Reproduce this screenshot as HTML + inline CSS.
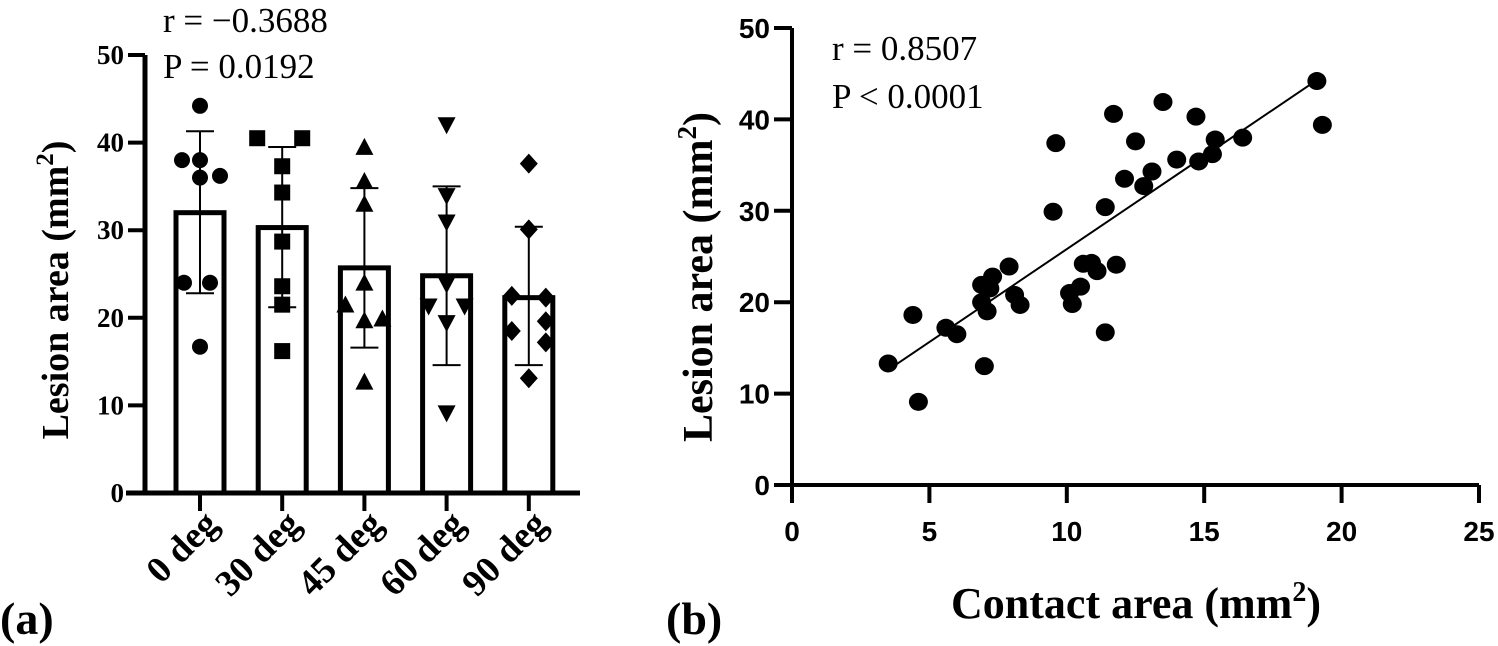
<!DOCTYPE html>
<html><head><meta charset="utf-8"><style>
html,body{margin:0;padding:0;background:#fff}
svg{display:block}
.serif{font-family:"Liberation Serif",serif}
.sans{font-family:"Liberation Sans",sans-serif}
</style></head><body>
<svg id="fig" width="1498" height="646" viewBox="0 0 1498 646" xmlns="http://www.w3.org/2000/svg">
<g id="chartA"></g>
<g id="chartB"></g>
<text x="0" y="634" class="serif" font-size="46" font-weight="bold">(a)</text>
<text x="666" y="634" class="serif" font-size="46" font-weight="bold">(b)</text>
<text x="163" y="32" class="serif" font-size="35">r = −0.3688</text>
<text x="163" y="78" class="serif" font-size="35">P = 0.0192</text>
<text x="832" y="60" class="serif" font-size="35">r = 0.8507</text>
<text x="832" y="108" class="serif" font-size="35">P &lt; 0.0001</text>
<text transform="translate(68,290) rotate(-90)" text-anchor="middle" class="serif" font-size="38" font-weight="bold">Lesion area (mm<tspan dy="-15" font-size="25">2</tspan><tspan dy="15">)</tspan></text>
<text transform="translate(712,277) rotate(-90)" text-anchor="middle" class="serif" font-size="42" font-weight="bold">Lesion area (mm<tspan dy="-16" font-size="27">2</tspan><tspan dy="16">)</tspan></text>
<text x="1136" y="618" text-anchor="middle" class="serif" font-size="44" font-weight="bold">Contact area (mm<tspan dy="-17" font-size="28">2</tspan><tspan dy="17">)</tspan></text>
</svg>
<script>
// ---- Chart A data ----
const categories = ["0 deg","30 deg","45 deg","60 deg","90 deg"];
const means = [32.0, 30.3, 25.7, 24.8, 22.3];
const sdUpper = [41.3, 39.5, 34.8, 35.0, 30.4];
const sdLower = [22.8, 21.2, 16.6, 14.6, 14.6];
const pts0 = [44.2, 38.0, 38.0, 36.0, 36.2, 24.0, 24.0, 16.7];
const pts30 = [40.5, 40.5, 37.3, 34.3, 28.7, 23.6, 21.5, 16.2];
const pts45 = [39.4, 35.5, 32.9, 23.9, 21.4, 19.6, 19.8, 12.6];
const pts60 = [42.1, 34.0, 31.0, 23.9, 21.4, 21.4, 19.5, 9.2];
const pts90 = [37.6, 30.1, 22.5, 22.3, 18.5, 19.6, 17.2, 13.1];
const jitter0 = [0,-18,0,0,20,-16,10,0];
const jitter30 = [-25,20,0,0,0,0,0,0];
const jitter45 = [0,0,0,0,-19,0,18,0];
const jitter60 = [0,0,0,0,-18,18,0,0];
const jitter90 = [0,0,-17,17,-17,17,17,0];
const yTicksA = [0,10,20,30,40,50];
// ---- Chart B data ----
const contactArea = [3.5,4.4,4.6,5.6,6.0,6.9,7.0,6.9,7.1,7.2,7.3,7.9,8.1,8.3,9.5,9.6,10.1,10.2,10.5,10.6,10.9,11.1,11.4,11.4,11.8,11.7,12.1,12.5,12.8,13.1,13.5,14.0,14.7,14.8,15.3,15.4,16.4,19.1,19.3];
const lesionArea = [13.3,18.6,9.1,17.2,16.5,21.9,13.0,20.0,19.0,21.5,22.8,23.9,20.8,19.7,29.9,37.4,21.0,19.8,21.7,24.2,24.3,23.4,30.4,16.7,24.1,40.6,33.5,37.6,32.7,34.3,41.9,35.6,40.3,35.4,36.2,37.8,38.0,44.2,39.4];
const fitX = [3.5, 19.1];
const fitY = [12.6, 44.3];
const xTicksB = [0,5,10,15,20,25];
const yTicksB = [0,10,20,30,40,50];

const NS="http://www.w3.org/2000/svg";
function mk(parent, tag, attrs){const e=document.createElementNS(NS,tag);for(const k in attrs)e.setAttribute(k,attrs[k]);parent.appendChild(e);return e;}

// Chart A
const gA=document.getElementById('chartA');
const yA=v=>493-v*(438/50);
const xA=i=>200+i*82.2;
const allPts=[pts0,pts30,pts45,pts60,pts90];
const allJit=[jitter0,jitter30,jitter45,jitter60,jitter90];
let e;
e=mk(gA,'line',{x1:145,y1:yA(0),x2:145,y2:yA(50),stroke:'#000','stroke-width':5});


e=mk(gA,'line',{x1:126,y1:yA(0),x2:580,y2:yA(0),stroke:'#000','stroke-width':5});


yTicksA.forEach(t=>{
  e=mk(gA,'line',{x1:128,y1:yA(t),x2:145,y2:yA(t),stroke:'#000','stroke-width':4});
  
  
  e=mk(gA,'text',{x:124,y:yA(t)+9,'text-anchor':'end','font-size':27,'font-weight':'bold','class':'serif'});
  e.textContent=t;
  
  
});
categories.forEach((c,i)=>{
  const cx=xA(i);
  e=mk(gA,'rect',{x:cx-24,y:yA(means[i]),width:48,height:yA(0)-yA(means[i]),fill:'#fff',stroke:'#000','stroke-width':5});
  
  
  e=mk(gA,'line',{x1:cx,y1:yA(sdUpper[i]),x2:cx,y2:yA(sdLower[i]),stroke:'#000','stroke-width':2});
  
  
  [sdUpper[i],sdLower[i]].forEach(v=>{
    e=mk(gA,'line',{x1:cx-14,y1:yA(v),x2:cx+14,y2:yA(v),stroke:'#000','stroke-width':2});
    
    
  });
  e=mk(gA,'line',{x1:cx,y1:yA(0),x2:cx,y2:yA(0)+18,stroke:'#000','stroke-width':4});
  
  
  e=mk(gA,'text',{transform:`translate(${cx+20},${526}) rotate(-45)`,'text-anchor':'end','font-size':37,'font-weight':'bold','class':'serif'});
  e.textContent=c;
  
  
  allPts[i].forEach((v,j)=>{
    const px=cx+allJit[i][j], py=yA(v);
    let m;
    if(i===0) m=mk(gA,'circle',{cx:px,cy:py,r:8,fill:'#000'});
    else if(i===1) m=mk(gA,'rect',{x:px-8,y:py-8,width:16,height:16,fill:'#000'});
    else if(i===2) m=mk(gA,'polygon',{points:`${px},${py-10} ${px-9},${py+7} ${px+9},${py+7}`,fill:'#000'});
    else if(i===3) m=mk(gA,'polygon',{points:`${px},${py+10} ${px-9},${py-7} ${px+9},${py-7}`,fill:'#000'});
    else m=mk(gA,'polygon',{points:`${px},${py-10} ${px+9},${py} ${px},${py+10} ${px-9},${py}`,fill:'#000'});
    
    
  });
});

// Chart B
const gB=document.getElementById('chartB');
const xB=v=>792+v*(687/25);
const yB=v=>485-v*(91.4/10);
e=mk(gB,'line',{x1:xB(0),y1:yB(0),x2:xB(0),y2:yB(50),stroke:'#000','stroke-width':4});


e=mk(gB,'line',{x1:xB(0)-16,y1:yB(0),x2:xB(25),y2:yB(0),stroke:'#000','stroke-width':4});


yTicksB.forEach(t=>{
  e=mk(gB,'line',{x1:xB(0)-18,y1:yB(t),x2:xB(0),y2:yB(t),stroke:'#000','stroke-width':4});
  
  
  e=mk(gB,'text',{x:xB(0)-22,y:yB(t)+10,'text-anchor':'end','font-size':28,'font-weight':'bold','class':'sans'});
  e.textContent=t;
  
  
});
xTicksB.forEach(t=>{
  e=mk(gB,'line',{x1:xB(t),y1:yB(0),x2:xB(t),y2:yB(0)+18,stroke:'#000','stroke-width':4});
  
  
  e=mk(gB,'text',{x:xB(t),y:541,'text-anchor':'middle','font-size':28,'font-weight':'bold','class':'sans'});
  e.textContent=t;
  
  
});
e=mk(gB,'line',{x1:xB(fitX[0]),y1:yB(fitY[0]),x2:xB(fitX[1]),y2:yB(fitY[1]),stroke:'#000','stroke-width':2});


contactArea.forEach((x,i)=>{
  e=mk(gB,'ellipse',{cx:xB(x),cy:yB(lesionArea[i]),rx:9.5,ry:9,fill:'#000'});
  
  
});
</script>
</body></html>
